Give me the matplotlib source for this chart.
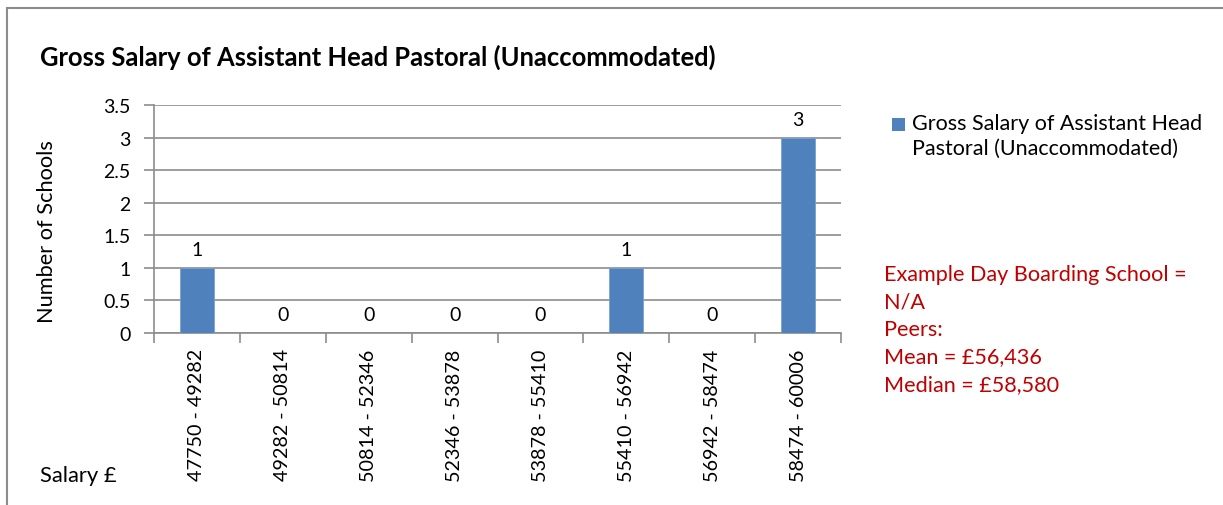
import matplotlib
matplotlib.use("Agg")
import matplotlib.pyplot as plt
from matplotlib.patches import Rectangle

categories = ["47750 - 49282", "49282 - 50814", "50814 - 52346", "52346 - 53878",
              "53878 - 55410", "55410 - 56942", "56942 - 58474", "58474 - 60006"]
counts = [1, 0, 0, 0, 0, 1, 0, 3]
yticks = [0, 0.5, 1, 1.5, 2, 2.5, 3, 3.5]
ytick_labels = ["0", "0.5", "1", "1.5", "2", "2.5", "3", "3.5"]
title = "Gross Salary of Assistant Head Pastoral (Unaccommodated)"
legend_label = "Gross Salary of Assistant Head\nPastoral (Unaccommodated)"
note_lines = ["Example Day Boarding School =", "N/A", "Peers:", "Mean = £56,436", "Median = £58,580"]

FONT = ["Lato", "DejaVu Sans"]
plt.rcParams['font.family'] = FONT

W, H = 1223, 506
fig = plt.figure(figsize=(W / 100, H / 100), dpi=100)

# outer frame
fig.patches.append(Rectangle((7 / W, -0.1), 1.2, (H - 9) / H + 0.1, transform=fig.transFigure,
                             fill=False, edgecolor="#8c8c8c", linewidth=1.5))

left, right, top, bottom = 154, 841, 106, 334
ax = fig.add_axes([left / W, 1 - bottom / H, (right - left) / W, (bottom - top) / H])

x = list(range(len(categories)))
bars = ax.bar(x, counts, width=0.40, color="#4F81BD", edgecolor="#7aa0cf", linewidth=0.6, zorder=3)
ax.set_xlim(-0.5, len(categories) - 0.5)
ax.set_ylim(0, 3.5)
ax.set_yticks(yticks)
ax.set_yticklabels(ytick_labels, fontsize=14)
ax.yaxis.grid(True, color="#8c8c8c", linewidth=1.2, zorder=0)
ax.set_axisbelow(True)

for s in ["top", "right"]:
    ax.spines[s].set_visible(False)
for s in ["left", "bottom"]:
    ax.spines[s].set_color("#8c8c8c")
    ax.spines[s].set_linewidth(1.2)

ax.tick_params(axis="y", length=7, color="#8c8c8c", width=1.2, pad=10)
ax.set_xticks([i - 0.5 for i in range(len(categories) + 1)], minor=False)
ax.set_xticklabels([])
ax.tick_params(axis="x", length=7, color="#8c8c8c", width=1.2)
ax.set_xticks(x, minor=True)
ax.set_xticklabels(categories, minor=True, rotation=90, fontsize=14.2)
ax.tick_params(axis="x", which="minor", length=0, pad=11)

for xi, c in zip(x, counts):
    ax.annotate(str(c), (xi, c), xytext=(0, 7), textcoords="offset points",
                ha="center", va="bottom", fontsize=14)

ax.set_ylabel("Number of Schools", fontsize=15.7)
ax.yaxis.set_label_coords((57 - left) / (right - left), (bottom - 232) / (bottom - top))

fig.text(40 / W, 1 - 57 / H, title, fontsize=18.4, fontweight="bold", ha="left", va="center")
fig.text(40 / W, 1 - 476 / H, "Salary £", fontsize=15.8, ha="left", va="center")

# legend
fig.patches.append(Rectangle((892 / W, 1 - 132 / H), 13 / W, 13 / H, transform=fig.transFigure,
                             facecolor="#4F81BD", edgecolor="none"))
fig.text(912 / W, 1 - 114 / H, legend_label, fontsize=15.5, ha="left", va="top", linespacing=1.3)

# notes
y0 = 275
for i, line in enumerate(note_lines):
    fig.text(884 / W, 1 - (y0 + i * 27.5) / H, line, fontsize=15.6, color="#C00000",
             ha="left", va="center")

fig.savefig("out.png", dpi=100)
